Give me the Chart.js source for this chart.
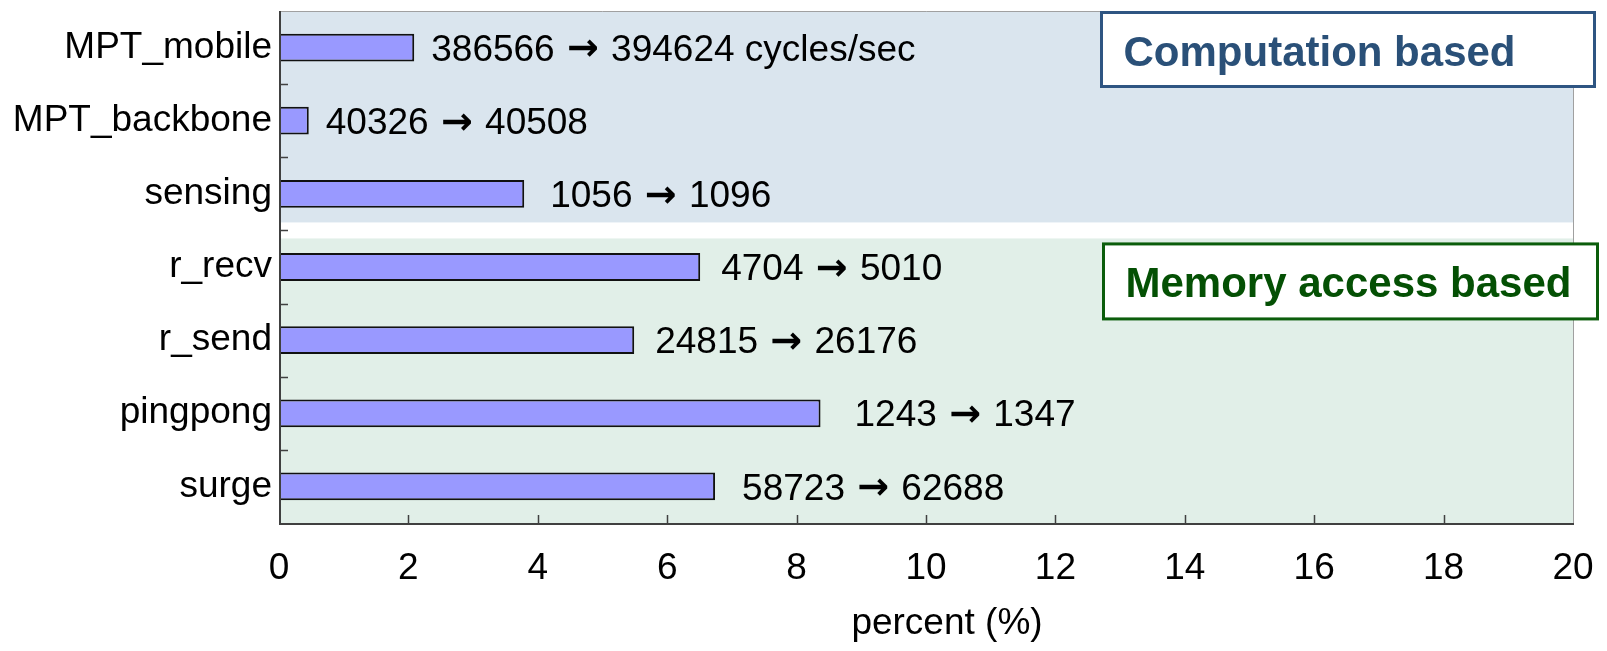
<!DOCTYPE html>
<html>
<head>
<meta charset="utf-8">
<script src="https://cdn.jsdelivr.net/npm/chart.js@4.4.1/dist/chart.umd.min.js"></script>
<style>
  html, body { margin: 0; padding: 0; background: #fff; }
  #wrap { width: 1607px; height: 651px; }
</style>
</head>
<body>
<div id="wrap"><canvas id="grfk"></canvas></div>
<script>
// data
const benchmarks = ['MPT_mobile', 'MPT_backbone', 'sensing', 'r_recv', 'r_send', 'pingpong', 'surge'];
const increasePct = [2.09, 0.46, 3.79, 6.51, 5.49, 8.37, 6.74];
const beforeVals = ['386566', '40326', '1056', '4704', '24815', '1243', '58723'];
const afterVals = ['394624', '40508', '1096', '5010', '26176', '1347', '62688'];
const unitSuffix = [' cycles/sec', '', '', '', '', '', ''];
const groupNames = ['Computation based', 'Memory access based'];
const groupSizes = [3, 4];
const xMin = 0, xMax = 20, xStep = 2;
const xTitle = 'percent (%)';

// label gap after each bar (px), as in the original
const labelGap = [17, 17, 26, 21, 21, 34, 27];

const FONT = '"Liberation Sans", Arial, sans-serif';
const ARROW_FONT = 'bold 38px "DejaVu Sans", sans-serif';

const decoPlugin = {
    id: 'deco',
    beforeDatasetsDraw(chart) {
        const { ctx, chartArea: a, scales: { y } } = chart;
        const split = (y.getPixelForValue(groupSizes[0] - 1) + y.getPixelForValue(groupSizes[0])) / 2;
        ctx.save();
        ctx.fillStyle = '#dae5ee';
        ctx.fillRect(a.left, a.top, a.right - a.left, split - 8 - a.top);
        ctx.fillStyle = '#e1efe8';
        ctx.fillRect(a.left, split + 8, a.right - a.left, a.bottom - split - 8);
        ctx.restore();
    },
    afterDatasetsDraw(chart) {
        const { ctx, chartArea: a, scales: { x, y } } = chart;
        ctx.save();
        // frame
        ctx.strokeStyle = '#a0a0a0';
        ctx.lineWidth = 1;
        ctx.beginPath();
        ctx.moveTo(a.left, a.top + 0.5); ctx.lineTo(a.right + 0.5, a.top + 0.5);
        ctx.lineTo(a.right + 0.5, a.bottom);
        ctx.stroke();
        ctx.strokeStyle = '#404040';
        ctx.lineWidth = 2;
        ctx.beginPath();
        ctx.moveTo(a.left + 1, a.top); ctx.lineTo(a.left + 1, a.bottom + 1);
        ctx.lineTo(a.right + 1, a.bottom + 1);
        ctx.stroke();
        // inner ticks
        ctx.lineWidth = 1.5;
        ctx.beginPath();
        for (let v = xMin + xStep; v < xMax; v += xStep) {
            const px = Math.round(x.getPixelForValue(v)) + 0.5;
            ctx.moveTo(px, a.bottom); ctx.lineTo(px, a.bottom - 8);
        }
        for (let i = 0; i < benchmarks.length - 1; i++) {
            const py = Math.round((y.getPixelForValue(i) + y.getPixelForValue(i + 1)) / 2) + 0.5;
            ctx.moveTo(a.left, py); ctx.lineTo(a.left + 9, py);
        }
        ctx.stroke();

        // value labels: "before -> after"
        const meta = chart.getDatasetMeta(0);
        ctx.fillStyle = '#000';
        ctx.textAlign = 'left';
        ctx.textBaseline = 'middle';
        meta.data.forEach((bar, i) => {
            let tx = bar.x + labelGap[i];
            const ty = bar.y + 3;
            ctx.font = '37px ' + FONT;
            ctx.fillText(beforeVals[i] + ' ', tx, ty);
            tx += ctx.measureText(beforeVals[i] + ' ').width + 2;
            ctx.font = ARROW_FONT;
            ctx.fillText('\u2192', tx, ty);
            tx += ctx.measureText('\u2192').width + 2;
            ctx.font = '37px ' + FONT;
            ctx.fillText(' ' + afterVals[i] + unitSuffix[i], tx, ty);
        });

        // group boxes
        const split = (y.getPixelForValue(groupSizes[0] - 1) + y.getPixelForValue(groupSizes[0])) / 2;
        const boxes = [
            { name: groupNames[0], x0: 1101.5, y0: a.top + 1.5, w: 493, h: 74, line: '#2e5582', text: '#2a5078' },
            { name: groupNames[1], x0: 1103.5, y0: split + 13.5, w: 494, h: 75, line: '#0b5d0b', text: '#045004' }
        ];
        ctx.lineWidth = 3;
        ctx.font = 'bold 42px ' + FONT;
        ctx.textBaseline = 'alphabetic';
        boxes.forEach(b => {
            ctx.fillStyle = '#fff';
            ctx.fillRect(b.x0, b.y0, b.w, b.h);
            ctx.strokeStyle = b.line;
            ctx.strokeRect(b.x0, b.y0, b.w, b.h);
            ctx.fillStyle = b.text;
            ctx.fillText(b.name, b.x0 + 22, b.y0 + 53);
        });

        // axis title
        ctx.font = '37px ' + FONT;
        ctx.fillStyle = '#000';
        ctx.textAlign = 'center';
        ctx.textBaseline = 'middle';
        ctx.fillText(xTitle, (a.left + a.right) / 2 + 21, 624);
        ctx.restore();
    }
};

const ct = document.getElementById('grfk').getContext('2d');
const grfk = new Chart(ct, {
    type: 'bar',
    data: {
        labels: benchmarks,
        datasets: [{
            data: increasePct,
            backgroundColor: '#9999ff',
            borderColor: '#111111',
            borderWidth: 2,
            borderSkipped: false,
            barPercentage: 0.38,
            categoryPercentage: 1.0
        }]
    },
    options: {
        indexAxis: 'y',
        responsive: true,
        maintainAspectRatio: false,
        animation: false,
        layout: { padding: { top: 11, right: 34, bottom: 0, left: 0 } },
        plugins: {
            legend: { display: false },
            tooltip: { enabled: false }
        },
        scales: {
            x: {
                min: xMin,
                max: xMax,
                grid: { display: false, drawTicks: false },
                border: { display: false },
                ticks: {
                    stepSize: xStep,
                    autoSkip: false,
                    maxRotation: 0,
                    padding: 24,
                    color: '#000',
                    font: { family: FONT, size: 37 }
                },
                afterFit: s => { s.height = 128; s.paddingLeft = 0; s.paddingRight = 0; }
            },
            y: {
                grid: { display: false, drawTicks: false },
                border: { display: false },
                ticks: {
                    autoSkip: false,
                    padding: 7,
                    color: '#000',
                    font: { family: FONT, size: 37 }
                },
                afterFit: s => { s.width = 279; s.paddingTop = 0; s.paddingBottom = 0; }
            }
        }
    },
    plugins: [decoPlugin]
});
</script>
</body>
</html>
